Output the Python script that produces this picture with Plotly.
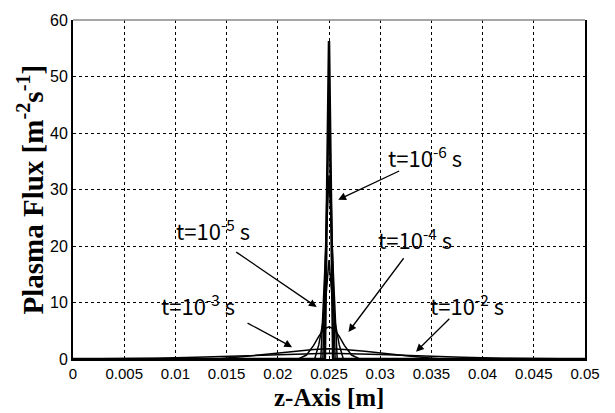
import plotly.graph_objects as go

# ---- data ----
x1 = [0.0, 0.0246, 0.025, 0.0254, 0.05]
y1 = [0.0, 0.0, 56.3, 0.0, 0.0]

x2 = [0.0, 0.0244, 0.025, 0.0256, 0.05]
y2 = [0.0, 0.0, 44.0, 0.0, 0.0]

x3 = [0.0, 0.0242, 0.025, 0.0258, 0.05]
y3 = [0.0, 0.0, 32.5, 0.0, 0.0]

x4 = [0.0, 0.0236, 0.0240, 0.0244, 0.0247, 0.025, 0.0253, 0.0256, 0.0260, 0.0264, 0.05]
y4 = [0.0, 0.0, 2.5, 6.5, 11.0, 17.5, 11.0, 6.5, 2.5, 0.0, 0.0]

x5 = [0.0, 0.0220, 0.0228, 0.0235, 0.0240, 0.0245, 0.025, 0.0255, 0.0260, 0.0265, 0.0272, 0.0280, 0.05]
y5 = [0.0, 0.0, 0.7, 2.4, 4.0, 5.3, 5.7, 5.3, 4.0, 2.4, 0.7, 0.0, 0.0]

x6 = [0.0, 0.0140, 0.0170, 0.0195, 0.0215, 0.0235, 0.025, 0.0265, 0.0285, 0.0305, 0.0330, 0.0360, 0.05]
y6 = [0.0, 0.0, 0.5, 0.95, 1.35, 1.7, 1.8, 1.7, 1.35, 0.95, 0.5, 0.0, 0.0]

x7 = [0.0, 0.0040, 0.0080, 0.0120, 0.0160, 0.0200, 0.025, 0.0300, 0.0340, 0.0380, 0.0420, 0.0460, 0.05]
y7 = [0.0, 0.05, 0.15, 0.3, 0.5, 0.8, 1.0, 0.8, 0.5, 0.3, 0.15, 0.05, 0.0]

series = [(x1, y1, 2.5), (x2, y2, 1.5), (x3, y3, 1.5), (x4, y4, 1.5),
          (x5, y5, 1.5), (x6, y6, 1.5), (x7, y7, 1.5)]

xticks = [0, 0.005, 0.01, 0.015, 0.02, 0.025, 0.03, 0.035, 0.04, 0.045, 0.05]
xticklabels = ["0", "0.005", "0.01", "0.015", "0.02", "0.025", "0.03", "0.035", "0.04", "0.045", "0.05"]
yticks = [0, 10, 20, 30, 40, 50, 60]

labels = ["t=10<sup>-6</sup> s", "t=10<sup>-5</sup> s", "t=10<sup>-4</sup> s",
          "t=10<sup>-3</sup> s", "t=10<sup>-2</sup> s"]
label_x = [0.0344, 0.0137, 0.0334, 0.0122, 0.0385]
label_y = [35.8, 23.0, 21.3, 9.7, 9.7]
arrow_tail_x = [0.0320, 0.0158, 0.0324, 0.0169, 0.0369]
arrow_tail_y = [33.4, 19.1, 18.1, 6.5, 7.4]
arrow_tip_x = [0.0259, 0.0238, 0.0269, 0.0214, 0.0335]
arrow_tip_y = [28.2, 9.2, 4.8, 2.1, 1.3]

fig = go.Figure()
for xs, ys, w in series:
    fig.add_trace(go.Scatter(x=xs, y=ys, mode="lines",
                             line=dict(color="black", width=w),
                             showlegend=False, hoverinfo="skip"))

for i in range(len(labels)):
    fig.add_annotation(x=label_x[i], y=label_y[i], xref="x", yref="y",
                       text=labels[i], showarrow=False,
                       font=dict(family="Noto Sans CJK KR", size=22, color="black"))
    fig.add_annotation(x=arrow_tip_x[i], y=arrow_tip_y[i], xref="x", yref="y",
                       ax=arrow_tail_x[i], ay=arrow_tail_y[i], axref="x", ayref="y",
                       text="", showarrow=True, arrowhead=2, arrowsize=1.2,
                       arrowwidth=1.3, arrowcolor="black")

fig.add_annotation(x=0.5, y=-0.155, xref="paper", yref="paper",
                   text="z-Axis [m]", showarrow=False, xanchor="center", yanchor="bottom",
                   borderpad=0,
                   font=dict(family="Liberation Serif", size=25, color="black", weight="bold"))
fig.add_annotation(x=-0.084, y=0.5, xref="paper", yref="paper",
                   text="Plasma Flux [m<sup>-2</sup>s<sup>-1</sup>]", showarrow=False,
                   textangle=-90, xanchor="center", yanchor="middle",
                   font=dict(family="Liberation Serif", size=29, color="black", weight="bold"))

fig.add_shape(type="line", xref="paper", yref="paper", x0=0, x1=1, y0=1, y1=1,
              line=dict(color="#888888", width=1.5))

fig.update_layout(
    width=615, height=413,
    margin=dict(l=73, r=30, t=13, b=54),
    paper_bgcolor="white", plot_bgcolor="white",
    font=dict(family="Liberation Sans", size=15, color="black"),
    xaxis=dict(range=[0, 0.05], tickvals=xticks, ticktext=xticklabels,
               showgrid=True, gridcolor="black", griddash="dot", gridwidth=1,
               showline=True, linecolor="black", linewidth=2, mirror=False,
               zeroline=False, ticks=""),
    yaxis=dict(range=[0, 60], tickvals=yticks, tickfont=dict(size=16),
               showgrid=True, gridcolor="black", griddash="dot", gridwidth=1,
               showline=True, linecolor="black", linewidth=2, mirror=True,
               zeroline=False, ticks=""),
)

fig.write_html("out.html")
